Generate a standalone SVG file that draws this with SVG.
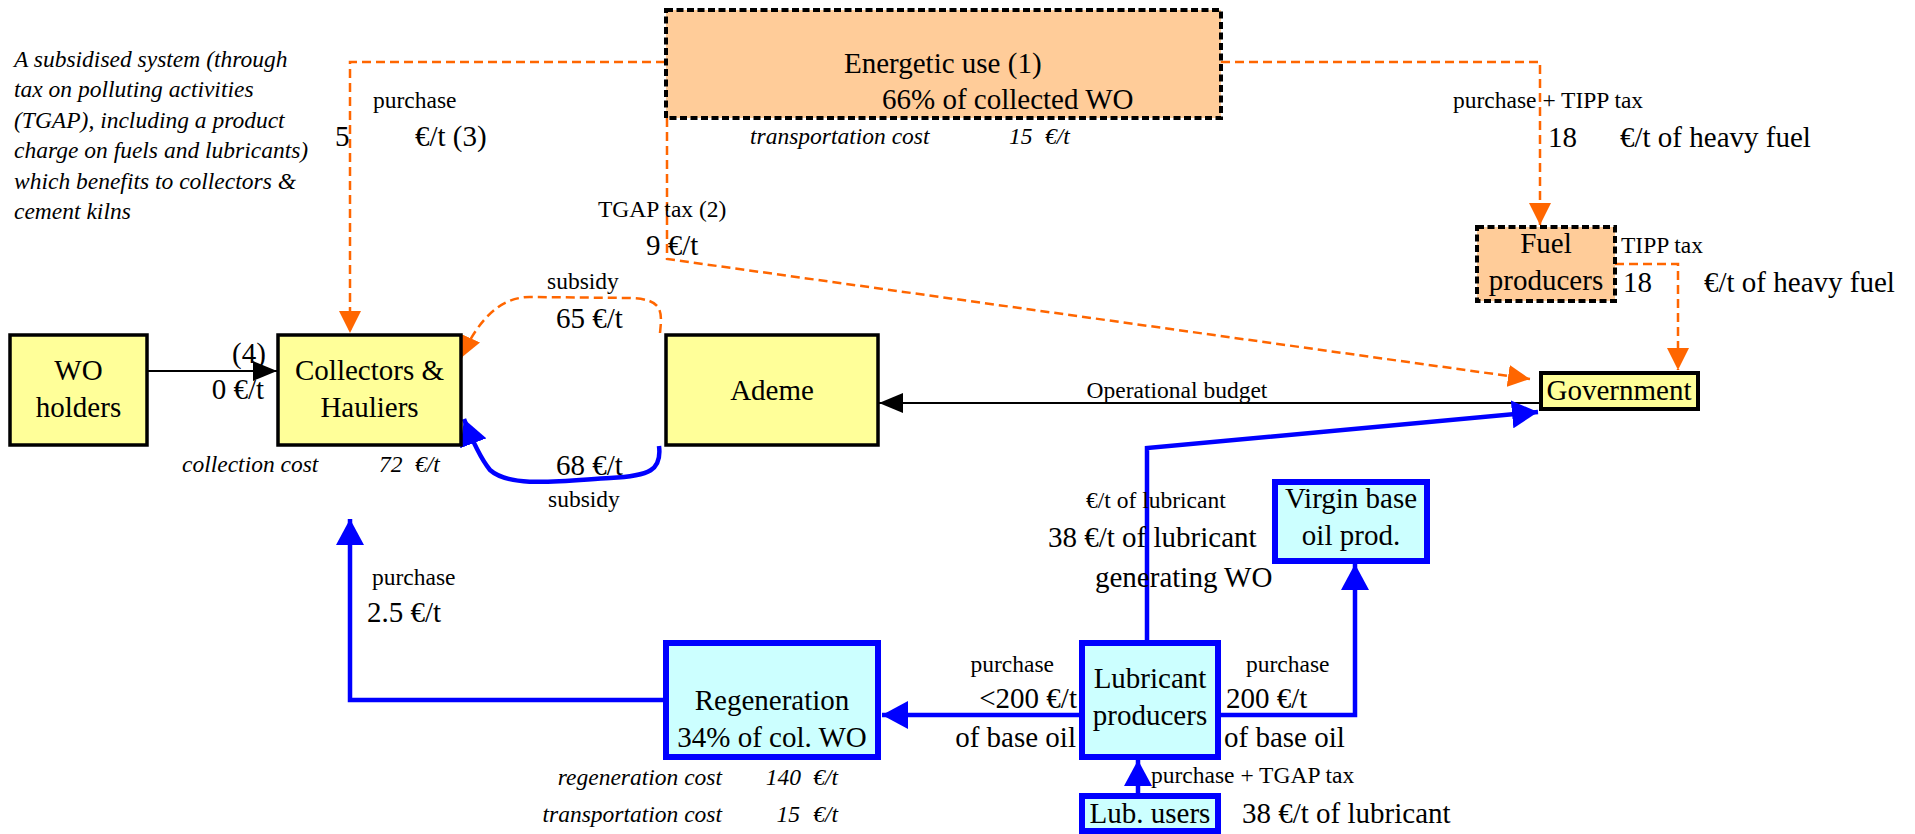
<svg xmlns="http://www.w3.org/2000/svg" width="1915" height="834" viewBox="0 0 1915 834">
<style>
text{font-family:"Liberation Serif","Times New Roman",serif;fill:#000}
.b{font-size:29px}
.s{font-size:23.5px}
.i{font-size:23.5px;font-style:italic}
.c{text-anchor:middle}
.e{text-anchor:end}
.yel{fill:#FFFF99;stroke:#000;stroke-width:3.5}
.peach{fill:#FFCC99;stroke:#000;stroke-width:4;stroke-dasharray:7 3.5}
.cyan{fill:#CCFFFF;stroke:#0000FF;stroke-width:6}
.or{fill:none;stroke:#FF6600;stroke-width:2.5;stroke-dasharray:9 5}
.bl{fill:none;stroke:#0000FF;stroke-width:4.5}
.bk{fill:none;stroke:#000;stroke-width:2}
</style>
<defs>
<marker id="ao" markerUnits="userSpaceOnUse" markerWidth="22" markerHeight="22" viewBox="0 0 22 22" refX="22" refY="11" orient="auto"><path d="M0,0L22,11L0,22z" fill="#FF6600"/></marker>
<marker id="ak" markerUnits="userSpaceOnUse" markerWidth="24" markerHeight="20" viewBox="0 0 24 20" refX="24" refY="10" orient="auto"><path d="M0,0L24,10L0,20z" fill="#000"/></marker>
<marker id="ab" markerUnits="userSpaceOnUse" markerWidth="26" markerHeight="28" viewBox="0 0 26 28" refX="26" refY="14" orient="auto"><path d="M0,0L26,14L0,28z" fill="#0000FF"/></marker>
</defs>

<g id="connectors">
<path class="or" d="M665,62 H350 V333" marker-end="url(#ao)"/>
<path class="or" d="M667,118 V259 L1530,379" marker-end="url(#ao)"/>
<path class="or" d="M1221,62 H1540 V225" marker-end="url(#ao)"/>
<path class="or" d="M1615,264 H1678 V370" marker-end="url(#ao)"/>
<path class="or" d="M660,333 C662,312 664,299 630,298 L530,297 C500,297 478,320 461,358" marker-end="url(#ao)"/>
<path class="bk" d="M147,371 H277" marker-end="url(#ak)"/>
<path class="bk" d="M1541,403 H879" marker-end="url(#ak)"/>
<path class="bl" d="M659,446 C662,470 650,476 610,478 C560,481 510,488 490,470 C482,460 472,440 464,419" marker-end="url(#ab)"/>
<path class="bl" d="M665,700 H350 V519" marker-end="url(#ab)"/>
<path class="bl" d="M1081,715 H882" marker-end="url(#ab)"/>
<path class="bl" d="M1219,715 H1355 V564" marker-end="url(#ab)"/>
<path class="bl" d="M1138,796 V760" marker-end="url(#ab)"/>
<path class="bl" d="M1147,640 V448 L1538,412" marker-end="url(#ab)"/>
</g>

<g id="energetic">
<rect class="peach" x="666" y="10" width="555" height="108"/>
<text class="b" x="844" y="73">Energetic use (1)</text>
<text class="b" x="882" y="109">66% of collected WO</text>
</g>
<g id="wo-holders">
<rect class="yel" x="10" y="335" width="137" height="110"/>
<text class="b c" x="78.5" y="380">WO</text>
<text class="b c" x="78.5" y="417">holders</text>
</g>
<g id="collectors">
<rect class="yel" x="278" y="335" width="183" height="110"/>
<text class="b c" x="369.5" y="380">Collectors &amp;</text>
<text class="b c" x="369.5" y="417">Hauliers</text>
</g>
<g id="ademe">
<rect class="yel" x="666" y="335" width="212" height="110"/>
<text class="b c" x="772" y="400">Ademe</text>
</g>
<g id="government">
<rect x="1541" y="373" width="157" height="36" fill="#FFFF99" stroke="#000" stroke-width="4"/>
<text class="b c" x="1619" y="400">Government</text>
</g>
<g id="fuel-producers">
<rect class="peach" x="1477" y="227" width="138" height="74"/>
<text class="b c" x="1546" y="253">Fuel</text>
<text class="b c" x="1546" y="290">producers</text>
</g>
<g id="virgin">
<rect class="cyan" x="1275" y="482" width="152" height="79"/>
<text class="b c" x="1351" y="508">Virgin base</text>
<text class="b c" x="1351" y="545">oil prod.</text>
</g>
<g id="lubricant-producers">
<rect class="cyan" x="1082" y="643" width="136" height="114"/>
<text class="b c" x="1150" y="688">Lubricant</text>
<text class="b c" x="1150" y="725">producers</text>
</g>
<g id="lub-users">
<rect class="cyan" x="1082" y="796" width="136" height="35"/>
<text class="b c" x="1150" y="823">Lub. users</text>
</g>
<g id="regeneration">
<rect class="cyan" x="666" y="643" width="212" height="114"/>
<text class="b c" x="772" y="710">Regeneration</text>
<text class="b c" x="772" y="747">34% of col. WO</text>
</g>

<g id="labels">
<text class="i" x="14" y="67">A subsidised system (through</text>
<text class="i" x="14" y="97">tax on polluting activities</text>
<text class="i" x="14" y="128">(TGAP), including a product</text>
<text class="i" x="14" y="158">charge on fuels and lubricants)</text>
<text class="i" x="14" y="189">which benefits to collectors &amp;</text>
<text class="i" x="14" y="219">cement kilns</text>

<text class="s" x="373" y="108">purchase</text>
<text class="b" x="335" y="146">5</text>
<text class="b" x="415" y="146">€/t (3)</text>
<text class="i" x="750" y="144">transportation cost</text>
<text class="i" x="1009" y="144">15</text>
<text class="i" x="1045" y="144">€/t</text>
<text class="s" x="598" y="217">TGAP tax (2)</text>
<text class="b" x="646" y="255">9 €/t</text>
<text class="s" x="1453" y="108">purchase + TIPP tax</text>
<text class="b" x="1548" y="147">18</text>
<text class="b" x="1620" y="147">€/t of heavy fuel</text>
<text class="s" x="1621" y="253">TIPP tax</text>
<text class="b" x="1623" y="292">18</text>
<text class="b" x="1704" y="292">€/t of heavy fuel</text>

<text class="s" x="547" y="289">subsidy</text>
<text class="b" x="556" y="328">65 €/t</text>
<text class="b" x="556" y="475">68 €/t</text>
<text class="s" x="548" y="507">subsidy</text>
<text class="b" x="232" y="363">(4)</text>
<text class="b e" x="264" y="399">0 €/t</text>
<text class="i" x="182" y="472">collection cost</text>
<text class="i" x="379" y="472">72</text>
<text class="i" x="415" y="472">€/t</text>
<text class="s c" x="1177" y="398">Operational budget</text>

<text class="s" x="372" y="585">purchase</text>
<text class="b" x="367" y="622">2.5 €/t</text>

<text class="s" x="1086" y="508">€/t of lubricant</text>
<text class="b" x="1048" y="547">38 €/t of lubricant</text>
<text class="b" x="1095" y="587">generating WO</text>

<text class="s e" x="1054" y="672">purchase</text>
<text class="b e" x="1077" y="708">&lt;200 €/t</text>
<text class="b e" x="1076" y="747">of base oil</text>
<text class="s" x="1246" y="672">purchase</text>
<text class="b" x="1226" y="708">200 €/t</text>
<text class="b" x="1224" y="747">of base oil</text>
<text class="s" x="1151" y="783">purchase + TGAP tax</text>
<text class="b" x="1242" y="823">38 €/t of lubricant</text>

<text class="i e" x="722" y="785">regeneration cost</text>
<text class="i e" x="801" y="785">140</text>
<text class="i e" x="838" y="785">€/t</text>
<text class="i e" x="722" y="822">transportation cost</text>
<text class="i e" x="800" y="822">15</text>
<text class="i e" x="838" y="822">€/t</text>
</g>
</svg>
